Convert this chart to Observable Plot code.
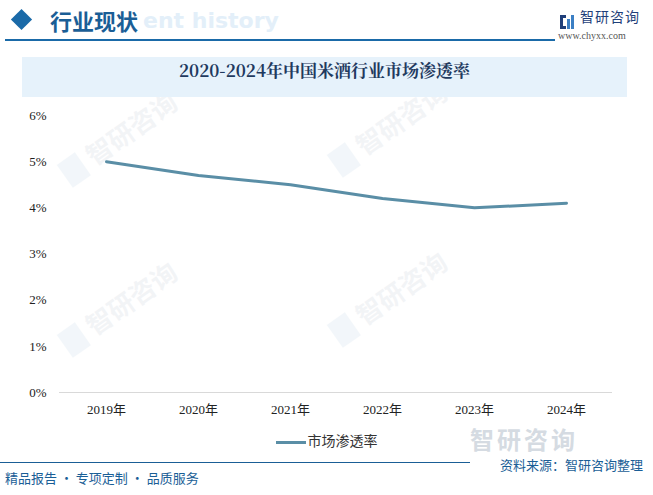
<!DOCTYPE html>
<html><head><meta charset="utf-8">
<script src="https://cdn.jsdelivr.net/npm/d3@7"></script>
<script src="https://cdn.jsdelivr.net/npm/@observablehq/plot@0.6"></script>
<style>
html,body{margin:0;padding:0;background:#fff;}
#page{position:relative;width:653px;height:495px;overflow:hidden;font-family:"Noto Sans CJK SC","Noto Sans",sans-serif;}
.abs{position:absolute;}
#wm{position:absolute;left:0;top:0;width:653px;height:495px;pointer-events:none;}
</style></head>
<body><div id="page">
<svg id="wm" width="653" height="495"></svg>
<div class="abs" style="left:14px;top:12px;width:15px;height:15px;background:#1a6aa8;transform:rotate(45deg);"></div>
<div class="abs" style="left:143px;top:8px;font:bold 22px 'DejaVu Sans',sans-serif;color:#e3eff9;">ent history</div>
<div class="abs" style="left:50px;top:4px;font:bold 22px 'Noto Sans CJK SC';color:#1a5e96;">行业现状</div>
<div class="abs" style="left:5px;top:39px;width:550px;height:2px;background:#1a6aa8;"></div>
<div class="abs" style="left:560px;top:10px;width:14px;height:14px;">
<svg width="14" height="14"><rect x="0" y="0" width="6" height="3" fill="#1f3f7a"/><rect x="0" y="0" width="3" height="14" fill="#1f3f7a"/><rect x="0" y="11" width="6" height="3" fill="#1f3f7a"/><rect x="7" y="4" width="3" height="10" fill="#3b7fc4"/><rect x="11" y="0" width="3" height="14" fill="#3b7fc4"/></svg></div>
<div class="abs" style="left:580px;top:6px;font:14px 'Noto Sans CJK SC';color:#1f3f7a;letter-spacing:1px;">智研咨询</div>
<div class="abs" style="left:558px;top:30px;font:10px 'Liberation Serif',serif;color:#555;">www.chyxx.com</div>
<div class="abs" style="left:22px;top:57px;width:605px;height:40px;background:#e6f2fb;"></div>
<div class="abs" style="left:22px;top:57px;width:605px;height:40px;line-height:40px;text-align:center;font:bold 17px 'Noto Serif CJK SC','Liberation Serif','Noto Sans CJK SC';color:#1f3a5f;" id="title"></div>
<div id="chart" class="abs" style="left:0;top:100px;"></div>
<div class="abs" style="left:0;top:428px;width:653px;text-align:center;font:14px 'Noto Sans CJK SC';color:#333;line-height:24px;">
<span style="display:inline-block;width:30px;height:3px;background:#5a8ea6;vertical-align:middle;margin-right:2px;"></span><span id="legtext"></span></div>
<div class="abs" style="left:470px;top:424px;font:bold 24px 'Noto Sans CJK SC';color:#d5dbe2;letter-spacing:3px;line-height:30px;">智研咨询</div>
<div class="abs" style="left:0;top:462px;width:470px;height:1px;background:#1a5e96;"></div>
<div class="abs" style="left:500px;top:456px;font:13px 'Noto Sans CJK SC';color:#1a5e96;line-height:17px;">资料来源：智研咨询整理</div>
<div class="abs" style="left:5px;top:468px;font:13px 'Noto Sans CJK SC';color:#1a5e96;">精品报告 · 专项定制 · 品质服务</div>
</div>
<script>
const titleText = "2020-2024年中国米酒行业市场渗透率";
const seriesName = "市场渗透率";
const years = ["2019年","2020年","2021年","2022年","2023年","2024年"];
const rates = [5.0, 4.7, 4.5, 4.2, 4.0, 4.1];
const yTicks = [0,1,2,3,4,5,6];

document.getElementById("title").textContent = titleText;
document.getElementById("legtext").textContent = seriesName;

const data = years.map((y,i)=>({year:y, rate:rates[i]}));

const chart = Plot.plot({
  width: 653, height: 320,
  marginTop: 15, marginBottom: 28, marginLeft: 59, marginRight: 41,
  style: {fontFamily: "'Liberation Serif','Noto Sans CJK SC',serif", fontSize: "13px", color: "#222", background: "transparent"},
  x: {type: "point", domain: years, padding: 0.5, label: null},
  y: {domain: [0,6], ticks: yTicks, label: null},
  marks: [
    Plot.axisY({ticks: yTicks, tickSize: 0, tickPadding: 13, tickFormat: d => d + "%", fontSize: 13}),
    Plot.axisX({tickSize: 0, tickPadding: 12, fontSize: 13}),
    Plot.ruleY([0], {stroke: "#d9d9d9", strokeWidth: 1}),
    Plot.line(data, {x: "year", y: "rate", stroke: "#5a8ea6", strokeWidth: 3})
  ]
});
document.getElementById("chart").appendChild(chart);

// faint watermarks
const wm = d3.select("#wm");
const spots = [[90,160],[360,150],[90,330],[360,320]];
spots.forEach(([x,y])=>{
  const g = wm.append("g").attr("transform",`translate(${x},${y}) rotate(-35)`).attr("opacity",0.05);
  g.append("rect").attr("x",-30).attr("y",-15).attr("width",22).attr("height",28).attr("fill","#1a6aa8");
  g.append("text").attr("x",0).attr("y",8).attr("font-size",26).attr("font-weight","bold").attr("fill","#1a3a6a").attr("font-family","Noto Sans CJK SC").text("智研咨询");
});
</script>
</body></html>
